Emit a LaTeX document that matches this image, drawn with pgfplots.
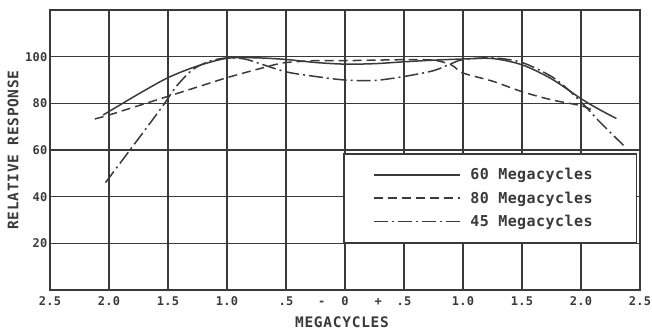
\documentclass[border=0pt]{standalone}
\usepackage{fontspec}
\setmainfont{DejaVu Sans Mono}
\usepackage{pgfplots}
\pgfplotsset{compat=1.18}
\usetikzlibrary{calc}
\definecolor{ink}{HTML}{3A3A3A}

\begin{document}
\begin{tikzpicture}
\begin{axis}[
  width=590pt, height=280pt, scale only axis,
  xmin=-2.5, xmax=2.5, ymin=0, ymax=120,
  xtick={-2.5,-2,-1.5,-1,-0.5,0,0.5,1,1.5,2,2.5},
  xticklabels={2.5,2.0,1.5,1.0,.5,{\llap{-\hspace{16pt}}0\rlap{\hspace{26pt}+}},.5,1.0,1.5,2.0,2.5},
  ytick={0,20,40,60,80,100,120},
  yticklabels={,20,40,60,80,100,},
  grid=major,
  major grid style={ink, line width=1.6pt},
  major tick length=0pt,
  axis line style={ink, line width=2pt},
  tick label style={text=ink, font=\bfseries\fontsize{12}{13}\selectfont\addfontfeature{LetterSpace=3}},
  xticklabel style={yshift=-3pt},
  yticklabel style={xshift=1pt},
  xlabel={MEGACYCLES},
  ylabel={RELATIVE RESPONSE},
  label style={text=ink, font=\bfseries\fontsize{14.5}{16}\selectfont\addfontfeature{LetterSpace=5}},
  xlabel style={at={(axis description cs:0.5,0)}, anchor=center, yshift=-32pt, xshift=-3pt},
  ylabel style={at={(axis description cs:0,0.5)}, anchor=center, yshift=37pt},
  legend style={at={(rel axis cs:0.4966,0.489)}, anchor=north west,
    draw=ink, line width=1.6pt, fill=white, text=ink,
    font=\bfseries\fontsize{15}{17}\selectfont\addfontfeature{LetterSpace=3},
    inner xsep=29pt, inner ysep=14.5pt, row sep=10.5pt,
    nodes={inner sep=0pt}},
  legend cell align=left,
  legend image code/.code={\draw[#1] (0pt,0pt) -- (86pt,0pt); \path (96pt,0pt);},
]
% 60 Megacycles
\addplot[ink, line width=1.5pt, smooth, tension=0.5, solid] coordinates {
 (-2.05,75) (-2.0,76.5) (-1.75,84) (-1.5,91) (-1.25,96) (-1.0,99.3)
 (-0.75,99.5) (-0.5,98.8) (-0.25,97.5) (0,96.8) (0.25,97) (0.5,97.8)
 (0.75,98.5) (1.0,99) (1.25,99.2) (1.5,96.5) (1.75,90.5) (2.0,82)
 (2.15,77.5) (2.3,73.5)};
% 80 Megacycles
\addplot[ink, line width=1.5pt, smooth, tension=0.5, dash pattern=on 9pt off 5pt] coordinates {
 (-2.12,73.3) (-2.0,75) (-1.75,79) (-1.5,83) (-1.25,87) (-1.0,91)
 (-0.75,94.5) (-0.6,96.5) (-0.5,97.5) (-0.25,98.3) (0,98.3) (0.25,98.5)
 (0.5,98.7) (0.75,98.5) (0.9,96.5) (1.0,93) (1.25,89.5) (1.5,85)
 (1.75,81.5) (2.0,79) (2.1,77)};
% 45 Megacycles
\addplot[ink, line width=1.5pt, smooth, tension=0.5, dash pattern=on 14pt off 4pt on 2pt off 4pt] coordinates {
 (-2.03,46) (-1.8,61.5) (-1.55,78.5) (-1.47,84.5) (-1.4,89) (-1.29,94.5)
 (-1.15,98) (-1.0,99.5) (-0.85,99) (-0.75,97.5) (-0.5,93.5) (-0.25,91.5)
 (0,90) (0.25,89.8) (0.5,91.5) (0.75,94) (0.9,97) (1.0,98.7) (1.25,99.5)
 (1.5,97.5) (1.75,91.5) (1.9,85.5) (2.05,78) (2.15,72.5) (2.36,62)};
\legend{60 Megacycles\rule{15pt}{0pt}, 80 Megacycles\rule{15pt}{0pt}, 45 Megacycles\rule{15pt}{0pt}}
\end{axis}
\pgfresetboundingbox
\path ($(current axis.south west)+(-50pt,-40pt)$) rectangle ($(current axis.north east)+(12pt,10pt)$);
\end{tikzpicture}
\end{document}
